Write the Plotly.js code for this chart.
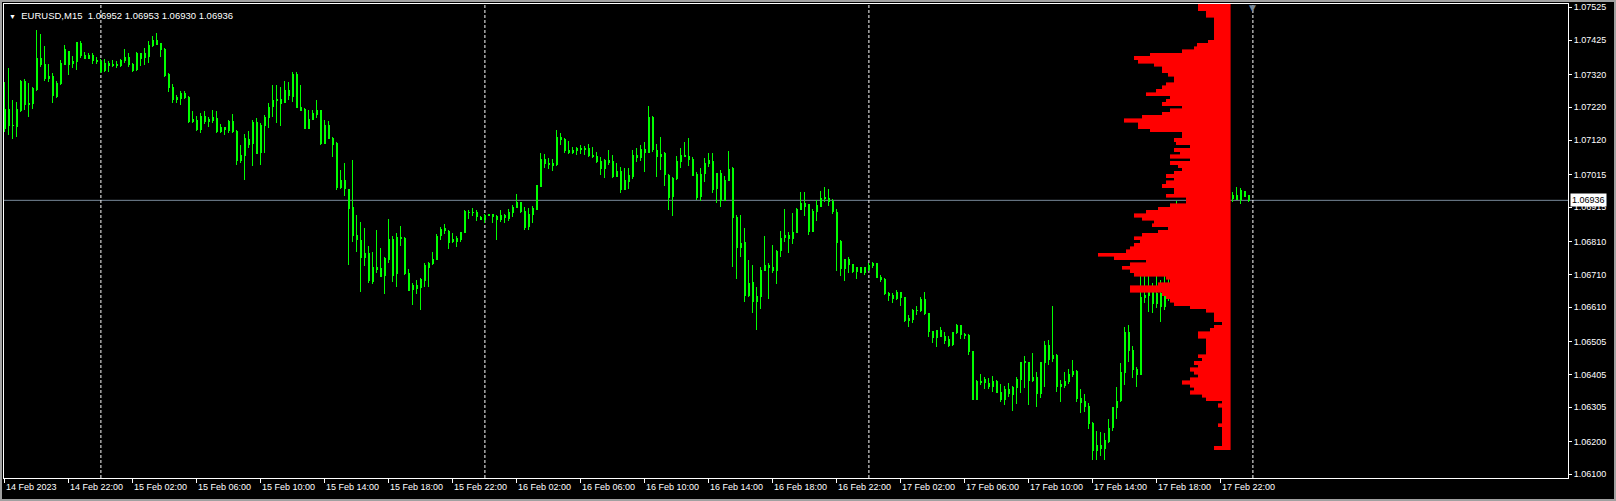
<!DOCTYPE html>
<html>
<head>
<meta charset="utf-8">
<script src="https://cdn.plot.ly/plotly-3.0.1.min.js"></script>
<style>
html,body{margin:0;padding:0;background:#000;overflow:hidden;}
#chart{width:1616px;height:501px;}
#chart .boxlayer path{shape-rendering:crispEdges;}
#chart .barlayer path{shape-rendering:crispEdges;}
#frame{position:absolute;left:0;top:0;width:1616px;height:501px;box-sizing:border-box;border:2px solid #a0a0a0;pointer-events:none;}
</style>
</head>
<body>
<div id="chart"></div>
<div id="frame"></div>
<script>
// ---------- DATA ----------
const symbol = "EURUSD,M15";
const firstBarUTC = "2023-02-14T18:00:00Z";
const barMinutes = 15;

const open = [
1.07156,1.07212,1.07163,1.07161,1.07210,1.07299,1.07228,1.07232,1.07275,1.07369,
1.07349,1.07307,1.07315,1.07254,1.07293,1.07352,1.07390,1.07354,1.07359,1.07415,
1.07377,1.07368,1.07379,1.07362,1.07359,1.07332,1.07354,1.07347,1.07349,1.07348,
1.07362,1.07372,1.07352,1.07336,1.07383,1.07372,1.07376,1.07407,1.07425,1.07415,
1.07397,1.07321,1.07281,1.07244,1.07246,1.07262,1.07250,1.07178,1.07181,1.07153,
1.07191,1.07178,1.07179,1.07186,1.07146,1.07157,1.07149,1.07178,1.07146,1.07059,
1.07073,1.07122,1.07108,1.07175,1.07081,1.07163,1.07189,1.07222,1.07242,1.07244,
1.07234,1.07270,1.07254,1.07321,1.07220,1.07212,1.07156,1.07183,1.07199,1.07210,
1.07110,1.07163,1.07125,1.07108,1.06976,1.06995,1.06970,1.06915,1.06829,1.06813,
1.06762,1.06774,1.06688,1.06732,1.06729,1.06707,1.06756,1.06817,1.06713,1.06823,
1.06820,1.06713,1.06665,1.06667,1.06671,1.06691,1.06731,1.06742,1.06756,1.06829,
1.06843,1.06841,1.06810,1.06810,1.06815,1.06837,1.06900,1.06898,1.06899,1.06885,
1.06878,1.06889,1.06893,1.06886,1.06878,1.06884,1.06882,1.06898,1.06915,1.06929,
1.06901,1.06856,1.06894,1.06909,1.06978,1.07061,1.07049,1.07041,1.07044,1.07128,
1.07122,1.07088,1.07082,1.07087,1.07095,1.07092,1.07095,1.07074,1.07069,1.07056,
1.07034,1.07059,1.07053,1.07008,1.07023,1.06970,1.06993,1.07010,1.07074,1.07067,
1.07090,1.07081,1.07189,1.07088,1.07069,1.07079,1.07012,1.06947,1.07003,1.07054,
1.07074,1.07071,1.07061,1.07016,1.06947,1.07018,1.07049,1.07056,1.06973,1.07018,
1.06937,1.06998,1.07032,1.06884,1.06793,1.06807,1.06647,1.06685,1.06627,1.06642,
1.06723,1.06738,1.06732,1.06723,1.06782,1.06823,1.06830,1.06820,1.06837,1.06909,
1.06927,1.06922,1.06840,1.06901,1.06917,1.06942,1.06942,1.06932,1.06899,1.06809,
1.06729,1.06754,1.06739,1.06718,1.06732,1.06715,1.06725,1.06738,1.06742,1.06701,
1.06695,1.06652,1.06647,1.06637,1.06655,1.06640,1.06569,1.06573,1.06601,1.06599,
1.06632,1.06591,1.06535,1.06518,1.06538,1.06522,1.06510,1.06497,1.06532,1.06553,
1.06526,1.06525,1.06474,1.06329,1.06384,1.06380,1.06378,1.06367,1.06384,1.06351,
1.06327,1.06359,1.06342,1.06365,1.06390,1.06440,1.06440,1.06386,1.06394,1.06347,
1.06440,1.06492,1.06453,1.06463,1.06367,1.06372,1.06382,1.06404,1.06415,1.06331,
1.06321,1.06308,1.06256,1.06172,1.06187,1.06178,1.06200,1.06243,1.06304,1.06325,
1.06410,1.06533,1.06479,1.06420,1.06404,1.06640,1.06647,1.06673,1.06622,1.06652,
1.06612,1.06657,1.06680,1.06720,1.06800,1.06780,1.06820,1.06850,1.06840,1.06880,
1.06900,1.06890,1.06910,1.06920,1.06930,1.06940,1.06945,1.06942,1.06952,1.06939,
1.06964,1.06952];

const high = [
1.07298,1.07339,1.07242,1.07237,1.07303,1.07305,1.07293,1.07283,1.07456,1.07444,
1.07407,1.07352,1.07326,1.07301,1.07364,1.07410,1.07393,1.07376,1.07419,1.07422,
1.07390,1.07387,1.07385,1.07372,1.07366,1.07366,1.07360,1.07364,1.07360,1.07366,
1.07398,1.07387,1.07356,1.07390,1.07387,1.07400,1.07423,1.07437,1.07446,1.07417,
1.07400,1.07326,1.07291,1.07257,1.07271,1.07270,1.07254,1.07210,1.07193,1.07201,
1.07210,1.07191,1.07212,1.07210,1.07169,1.07159,1.07181,1.07199,1.07151,1.07105,
1.07138,1.07148,1.07181,1.07187,1.07171,1.07196,1.07232,1.07288,1.07288,1.07283,
1.07300,1.07296,1.07329,1.07329,1.07288,1.07217,1.07212,1.07212,1.07242,1.07212,
1.07181,1.07178,1.07130,1.07115,1.07029,1.07049,1.06971,1.07059,1.06891,1.06871,
1.06851,1.06797,1.06777,1.06846,1.06790,1.06764,1.06878,1.06827,1.06835,1.06858,
1.06825,1.06726,1.06683,1.06693,1.06698,1.06746,1.06749,1.06779,1.06833,1.06856,
1.06864,1.06846,1.06835,1.06827,1.06840,1.06905,1.06905,1.06912,1.06907,1.06888,
1.06894,1.06894,1.06894,1.06891,1.06907,1.06894,1.06909,1.06922,1.06955,1.06932,
1.06915,1.06912,1.06919,1.06983,1.07080,1.07077,1.07064,1.07061,1.07151,1.07141,
1.07125,1.07118,1.07100,1.07100,1.07105,1.07102,1.07108,1.07098,1.07085,1.07069,
1.07061,1.07090,1.07074,1.07051,1.07037,1.07034,1.07034,1.07090,1.07095,1.07105,
1.07115,1.07224,1.07194,1.07108,1.07128,1.07085,1.07016,1.07008,1.07071,1.07095,
1.07115,1.07125,1.07067,1.07023,1.07034,1.07064,1.07081,1.07081,1.07020,1.07029,
1.07010,1.07088,1.07037,1.06891,1.06891,1.06851,1.06754,1.06739,1.06673,1.06734,
1.06827,1.06746,1.06800,1.06784,1.06843,1.06910,1.06840,1.06898,1.06912,1.06961,
1.06961,1.06925,1.06909,1.06937,1.06965,1.06976,1.06970,1.06939,1.06909,1.06815,
1.06756,1.06762,1.06742,1.06734,1.06734,1.06734,1.06744,1.06749,1.06744,1.06708,
1.06698,1.06657,1.06652,1.06662,1.06657,1.06642,1.06586,1.06603,1.06614,1.06642,
1.06657,1.06593,1.06537,1.06540,1.06551,1.06535,1.06522,1.06535,1.06559,1.06554,
1.06530,1.06528,1.06477,1.06388,1.06406,1.06396,1.06393,1.06400,1.06388,1.06376,
1.06369,1.06378,1.06369,1.06398,1.06444,1.06461,1.06444,1.06471,1.06413,1.06444,
1.06508,1.06510,1.06614,1.06467,1.06388,1.06413,1.06420,1.06449,1.06418,1.06359,
1.06345,1.06319,1.06261,1.06233,1.06230,1.06225,1.06268,1.06306,1.06367,1.06441,
1.06551,1.06556,1.06492,1.06428,1.06708,1.06720,1.06725,1.06683,1.06710,1.06693,
1.06713,1.06700,1.06740,1.06935,1.06830,1.06850,1.06870,1.06880,1.06900,1.06920,
1.06920,1.06930,1.06940,1.06950,1.06955,1.06960,1.06952,1.06962,1.06976,1.06973,
1.06966,1.06953];

const low = [
1.07146,1.07135,1.07122,1.07128,1.07207,1.07212,1.07191,1.07214,1.07271,1.07344,
1.07301,1.07298,1.07232,1.07247,1.07288,1.07349,1.07318,1.07339,1.07334,1.07369,
1.07366,1.07366,1.07352,1.07352,1.07324,1.07329,1.07329,1.07344,1.07339,1.07342,
1.07354,1.07344,1.07329,1.07332,1.07346,1.07349,1.07356,1.07405,1.07412,1.07372,
1.07311,1.07268,1.07234,1.07232,1.07227,1.07244,1.07171,1.07173,1.07149,1.07140,
1.07169,1.07161,1.07171,1.07142,1.07142,1.07135,1.07140,1.07142,1.07043,1.07051,
1.06998,1.07095,1.07041,1.07077,1.07045,1.07081,1.07156,1.07191,1.07171,1.07163,
1.07233,1.07242,1.07237,1.07217,1.07209,1.07153,1.07153,1.07181,1.07186,1.07105,
1.07108,1.07122,1.07069,1.06968,1.06970,1.06949,1.06739,1.06810,1.06779,1.06657,
1.06736,1.06685,1.06681,1.06713,1.06702,1.06650,1.06744,1.06688,1.06671,1.06797,
1.06708,1.06659,1.06617,1.06650,1.06601,1.06671,1.06673,1.06739,1.06754,1.06815,
1.06833,1.06787,1.06807,1.06795,1.06810,1.06835,1.06878,1.06888,1.06874,1.06876,
1.06868,1.06888,1.06868,1.06815,1.06871,1.06868,1.06874,1.06884,1.06912,1.06896,
1.06844,1.06846,1.06868,1.06907,1.06976,1.07034,1.07031,1.07027,1.07041,1.07105,
1.07080,1.07077,1.07077,1.07074,1.07077,1.07074,1.07069,1.07064,1.07051,1.07013,
1.07003,1.07044,1.07003,1.07006,1.06959,1.06968,1.06970,1.07000,1.07054,1.07057,
1.07023,1.07079,1.07085,1.07006,1.07029,1.06980,1.06907,1.06888,1.06998,1.07034,
1.07070,1.07041,1.07010,1.06937,1.06935,1.06993,1.07039,1.06957,1.06929,1.06915,
1.06935,1.06996,1.06732,1.06695,1.06764,1.06627,1.06642,1.06593,1.06540,1.06603,
1.06721,1.06634,1.06715,1.06681,1.06764,1.06810,1.06776,1.06803,1.06836,1.06907,
1.06888,1.06830,1.06839,1.06874,1.06916,1.06932,1.06919,1.06894,1.06721,1.06705,
1.06691,1.06715,1.06713,1.06695,1.06713,1.06708,1.06721,1.06729,1.06698,1.06688,
1.06647,1.06630,1.06622,1.06632,1.06614,1.06566,1.06551,1.06561,1.06586,1.06596,
1.06586,1.06520,1.06500,1.06487,1.06518,1.06498,1.06487,1.06492,1.06528,1.06512,
1.06512,1.06465,1.06327,1.06327,1.06373,1.06359,1.06359,1.06352,1.06347,1.06322,
1.06312,1.06335,1.06294,1.06315,1.06347,1.06362,1.06312,1.06383,1.06304,1.06332,
1.06367,1.06434,1.06444,1.06352,1.06322,1.06362,1.06376,1.06398,1.06322,1.06286,
1.06291,1.06237,1.06144,1.06144,1.06156,1.06144,1.06195,1.06233,1.06270,1.06320,
1.06373,1.06444,1.06393,1.06367,1.06403,1.06622,1.06596,1.06593,1.06606,1.06566,
1.06601,1.06630,1.06670,1.06710,1.06760,1.06760,1.06800,1.06820,1.06830,1.06870,
1.06870,1.06880,1.06900,1.06910,1.06920,1.06930,1.06937,1.06932,1.06939,1.06925,
1.06945,1.06930];

const close = [
1.07212,1.07163,1.07165,1.07214,1.07299,1.07228,1.07232,1.07278,1.07369,1.07349,
1.07307,1.07315,1.07256,1.07293,1.07354,1.07395,1.07349,1.07359,1.07417,1.07377,
1.07368,1.07379,1.07362,1.07359,1.07329,1.07354,1.07347,1.07349,1.07347,1.07362,
1.07372,1.07349,1.07332,1.07383,1.07370,1.07383,1.07409,1.07425,1.07413,1.07397,
1.07318,1.07280,1.07244,1.07249,1.07262,1.07250,1.07176,1.07183,1.07153,1.07191,
1.07176,1.07183,1.07188,1.07146,1.07159,1.07153,1.07178,1.07145,1.07057,1.07074,
1.07125,1.07105,1.07175,1.07079,1.07163,1.07189,1.07220,1.07242,1.07244,1.07232,
1.07270,1.07257,1.07321,1.07219,1.07210,1.07155,1.07184,1.07201,1.07210,1.07110,
1.07163,1.07125,1.07107,1.06976,1.06995,1.06973,1.06912,1.06829,1.06815,1.06762,
1.06774,1.06691,1.06732,1.06726,1.06703,1.06759,1.06817,1.06708,1.06823,1.06819,
1.06713,1.06660,1.06675,1.06677,1.06693,1.06736,1.06742,1.06756,1.06827,1.06848,
1.06851,1.06807,1.06815,1.06820,1.06837,1.06901,1.06898,1.06900,1.06886,1.06878,
1.06890,1.06893,1.06886,1.06878,1.06890,1.06890,1.06899,1.06915,1.06930,1.06901,
1.06854,1.06894,1.06912,1.06981,1.07061,1.07049,1.07044,1.07047,1.07128,1.07122,
1.07088,1.07082,1.07087,1.07095,1.07092,1.07095,1.07074,1.07069,1.07056,1.07034,
1.07059,1.07052,1.07008,1.07024,1.06970,1.06998,1.07012,1.07074,1.07067,1.07090,
1.07081,1.07189,1.07090,1.07069,1.07077,1.07016,1.06945,1.07003,1.07054,1.07074,
1.07071,1.07061,1.07013,1.06945,1.07016,1.07049,1.07057,1.06970,1.07018,1.06937,
1.06998,1.07031,1.06884,1.06793,1.06805,1.06647,1.06683,1.06627,1.06642,1.06723,
1.06738,1.06732,1.06723,1.06781,1.06820,1.06830,1.06819,1.06837,1.06909,1.06927,
1.06917,1.06840,1.06903,1.06921,1.06942,1.06945,1.06932,1.06901,1.06807,1.06729,
1.06754,1.06739,1.06718,1.06732,1.06715,1.06732,1.06738,1.06742,1.06701,1.06693,
1.06652,1.06647,1.06637,1.06655,1.06640,1.06569,1.06576,1.06601,1.06599,1.06632,
1.06591,1.06535,1.06518,1.06538,1.06520,1.06508,1.06494,1.06533,1.06553,1.06528,
1.06524,1.06474,1.06329,1.06384,1.06380,1.06388,1.06367,1.06384,1.06349,1.06327,
1.06359,1.06347,1.06365,1.06390,1.06440,1.06443,1.06386,1.06394,1.06347,1.06440,
1.06492,1.06451,1.06463,1.06367,1.06373,1.06382,1.06406,1.06415,1.06331,1.06319,
1.06308,1.06256,1.06172,1.06188,1.06178,1.06203,1.06240,1.06304,1.06323,1.06411,
1.06533,1.06479,1.06420,1.06404,1.06640,1.06647,1.06673,1.06622,1.06652,1.06612,
1.06657,1.06680,1.06720,1.06800,1.06780,1.06820,1.06850,1.06840,1.06880,1.06900,
1.06890,1.06910,1.06920,1.06930,1.06940,1.06945,1.06942,1.06952,1.06939,1.06966,
1.06949,1.06936];

// volume profile: one value per 1-pip price level, starting at profileLowLevel
const profileLowLevel = 1.06180;
const profileStep = 0.0001;
const profileVolume = [
16,8,8,8,8,8,8,12,8,8,
8,8,8,12,8,24,28,40,36,40,
48,40,32,36,40,32,36,28,32,24,
24,24,24,24,32,32,20,16,8,16,
16,16,24,40,56,60,64,68,100,100,
72,60,64,96,100,108,100,84,116,132,
104,100,96,90,96,88,72,62,78,76,
88,96,84,72,60,44,44,64,56,56,
68,64,56,64,56,48,52,60,40,60,
50,56,40,54,56,48,48,80,92,92,
106,88,68,60,48,68,64,60,84,74,
68,64,56,56,62,68,68,76,92,96,
80,48,36,33,22,16,16,16,16,16,
16,16,24,24,32,32];

const xTickLabels = ["14 Feb 2023","14 Feb 22:00","15 Feb 02:00","15 Feb 06:00","15 Feb 10:00",
"15 Feb 14:00","15 Feb 18:00","15 Feb 22:00","16 Feb 02:00","16 Feb 06:00","16 Feb 10:00",
"16 Feb 14:00","16 Feb 18:00","16 Feb 22:00","17 Feb 02:00","17 Feb 06:00","17 Feb 10:00",
"17 Feb 14:00","17 Feb 18:00","17 Feb 22:00"];

const yTickLabels = ["1.06100","1.06200","1.06305","1.06405","1.06505","1.06610","1.06710",
"1.06810","1.06915","1.07015","1.07120","1.07220","1.07320","1.07425","1.07525"];

// ---------- BUILD ----------
const N = open.length;
const MONTHS = ["Jan","Feb","Mar","Apr","May","Jun","Jul","Aug","Sep","Oct","Nov","Dec"];
const t0 = Date.parse(firstBarUTC);
function barTime(i){ return new Date(t0 + i*barMinutes*60000); }
function pad(n){ return (n<10?"0":"")+n; }
function fmtBar(d){ return d.getUTCDate()+" "+MONTHS[d.getUTCMonth()]+" "+pad(d.getUTCHours())+":"+pad(d.getUTCMinutes()); }

const xIdx = [];
const barLabels = [];
for (let i=0;i<N;i++){ xIdx.push(i); barLabels.push(fmtBar(barTime(i))); }

const xTickVals = xTickLabels.map((lab, j) => j===0 ? 0 : barLabels.indexOf(lab));

// day separators (midnight), including the one right after the last bar
const separators = [];
for (let i=0;i<=N;i++){ const d = barTime(i); if (d.getUTCHours()===0 && d.getUTCMinutes()===0) separators.push(i); }

const profileLevels = profileVolume.map((_, j) => +(profileLowLevel + j*profileStep).toFixed(5));

const lime = "#00ff00";
const traces = [
  {
    type: "candlestick",
    x: xIdx, open: open, high: high, low: low, close: close,
    increasing: { line: { color: lime, width: 1 }, fillcolor: "#000000" },
    decreasing: { line: { color: lime, width: 1 }, fillcolor: "#ffffff" },
    whiskerwidth: 0,
    hoverinfo: "skip",
    showlegend: false
  },
  {
    type: "bar",
    orientation: "h",
    x: profileVolume,
    y: profileLevels,
    xaxis: "x2", yaxis: "y",
    width: profileStep,
    marker: { color: "#ff0000", line: { width: 0.6, color: "#ff0000" } },
    hoverinfo: "skip",
    showlegend: false
  }
];

const lastO = open[N-1], lastH = high[N-1], lastL = low[N-1], lastC = close[N-1];
const fnt = "Liberation Sans, Arial, sans-serif";

const shapes = [
  { type:"line", xref:"paper", x0:0, x1:1, yref:"y", y0:lastC, y1:lastC,
    line:{ color:"#778899", width:1 }, layer:"below" }
];
separators.forEach(s => shapes.push({
  type:"line", xref:"x", x0:s, x1:s, yref:"paper", y0:0, y1:1,
  line:{ color:"#ffffff", width:1, dash:"3px,2px" }, layer:"below"
}));

const annotations = [
  { xref:"paper", yref:"paper", x:0, y:1, xanchor:"left", yanchor:"top", xshift:3, yshift:-4,
    showarrow:false, align:"left",
    text:'<span style="font-size:7px">\u25BC</span>\u00a0\u00a0' + symbol + "\u00a0\u00a0" +
         lastO.toFixed(5)+" "+lastH.toFixed(5)+" "+lastL.toFixed(5)+" "+lastC.toFixed(5),
    font:{ family:fnt, size:9.5, color:"#ffffff" } },
  { xref:"paper", yref:"y", x:1, y:lastC, xanchor:"left", yanchor:"middle", xshift:2,
    showarrow:false, text:lastC.toFixed(5), bgcolor:"#ffffff", borderpad:1,
    font:{ family:fnt, size:9, color:"#000000" } },
  { xref:"x", yref:"paper", x:separators[separators.length-1], y:1, xanchor:"center", yanchor:"top",
    yshift:3, showarrow:false, text:"\u25BC", font:{ family:"DejaVu Sans", size:9, color:"#778899" } }
];

const layout = {
  width: 1616, height: 501,
  margin: { l: 4, r: 48, t: 4, b: 23 },
  paper_bgcolor: "#000000", plot_bgcolor: "#000000",
  showlegend: false, hovermode: false,
  boxgap: 0.5,
  xaxis: {
    range: [-0.225, 390.775], showgrid: false, zeroline: false,
    showline: true, mirror: true, linecolor: "#ffffff", linewidth: 1,
    ticks: "outside", ticklen: 4, tickcolor: "#ffffff", tickwidth: 1,
    tickvals: xTickVals, ticktext: xTickLabels, ticklabelposition: "outside right",
    tickfont: { family: fnt, size: 9, color: "#ffffff" },
    rangeslider: { visible: false }, fixedrange: true
  },
  xaxis2: { overlaying: "x", range: [1226, -338], visible: false, fixedrange: true },
  yaxis: {
    side: "right", range: [1.0608871, 1.0753507], showgrid: false, zeroline: false,
    showline: true, mirror: true, linecolor: "#ffffff", linewidth: 1,
    ticks: "outside", ticklen: 3, tickcolor: "#ffffff", tickwidth: 1,
    tickvals: yTickLabels.map(Number), ticktext: yTickLabels,
    tickfont: { family: fnt, size: 9, color: "#ffffff" }, fixedrange: true
  },
  shapes: shapes,
  annotations: annotations
};

Plotly.newPlot("chart", traces, layout, { staticPlot: true, displayModeBar: false });
</script>
</body>
</html>
